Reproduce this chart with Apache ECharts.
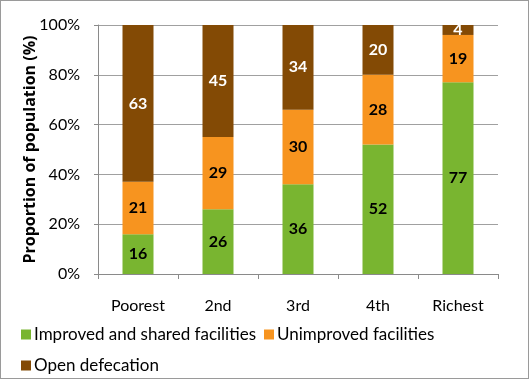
<!DOCTYPE html>
<html><head><meta charset="utf-8">
<script src="https://cdn.jsdelivr.net/npm/echarts@6/dist/echarts.min.js"></script>
<style>html,body{margin:0;padding:0;background:#fff}#c{width:529px;height:379px;box-sizing:border-box;border:1px solid #9a9a9a;position:absolute;left:0;top:0}</style>
</head><body><div id="c"></div>
<script>
const categories = ['Poorest', '2nd', '3rd', '4th', 'Richest'];
const improved = [16, 26, 36, 52, 77];
const unimproved = [21, 29, 30, 28, 19];
const openDef = [63, 45, 34, 20, 4];
const yTicks = [0, 20, 40, 60, 80, 100];
const seriesNames = ['Improved and shared facilities', 'Unimproved facilities', 'Open defecation'];

const FONT = 'Lato';
const chart = echarts.init(document.getElementById('c'), null, {renderer: 'canvas'});
function mk(name, data, color, labelColor) {
  return {
    name, type: 'bar', stack: 'a', data, barWidth: 31,
    itemStyle: {color},
    label: {show: true, position: 'inside', color: labelColor, fontFamily: FONT, fontWeight: 'bold', fontSize: 16}
  };
}
chart.setOption({
  animation: false,
  textStyle: {fontFamily: FONT},
  grid: {left: 97, right: 30, top: 24, bottom: 104, containLabel: false},
  legend: [
    {data: [seriesNames[0], seriesNames[1]], left: 15, top: 320, itemWidth: 10, itemHeight: 10, itemGap: 8,
     icon: 'rect', textStyle: {fontFamily: FONT, fontSize: 17, color: '#000', padding: [0, 0, 0, -2]}},
    {data: [seriesNames[2]], left: 15, top: 351, itemWidth: 10, itemHeight: 10,
     icon: 'rect', textStyle: {fontFamily: FONT, fontSize: 17, color: '#000', padding: [0, 0, 0, -2]}}
  ],
  xAxis: {
    type: 'category', data: categories,
    axisLine: {lineStyle: {color: '#8a8a8a', width: 1}},
    axisTick: {show: true, length: 5, alignWithLabel: false, lineStyle: {color: '#8a8a8a'}},
    axisLabel: {color: '#000', fontSize: 16, fontFamily: FONT, margin: 24}
  },
  yAxis: {
    type: 'value', min: 0, max: 100, interval: 20,
    name: 'Proportion of population (%)', nameLocation: 'middle', nameGap: 60, nameMoveOverlap: false,
    nameTextStyle: {fontFamily: 'Open Sans', fontWeight: 'bold', fontSize: 16, color: '#000'},
    axisLine: {show: true, lineStyle: {color: '#8a8a8a'}},
    axisTick: {show: true, length: 4, lineStyle: {color: '#8a8a8a'}},
    splitLine: {lineStyle: {color: '#a0a0a0', width: 1}},
    axisLabel: {color: '#000', fontSize: 16, fontFamily: FONT, margin: 18,
      formatter: v => yTicks.includes(v) ? v + '%' : ''}
  },
  series: [
    mk(seriesNames[0], improved, '#79b530', '#000'),
    mk(seriesNames[1], unimproved, '#f7941f', '#000'),
    mk(seriesNames[2], openDef, '#834a05', '#fff')
  ]
});
</script></body></html>
